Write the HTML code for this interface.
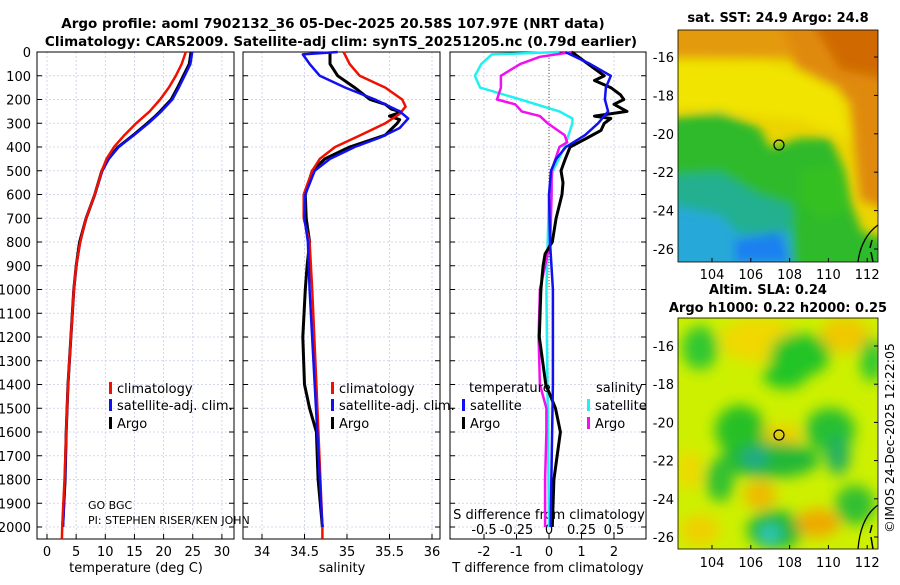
<!DOCTYPE html>
<html><head><meta charset="utf-8"><style>
html,body{margin:0;padding:0;background:#fff;}
svg text{font-family:"DejaVu Sans","Liberation Sans",sans-serif;}
</style></head><body>
<svg id="chart" width="900" height="580" viewBox="0 0 900 580" xmlns="http://www.w3.org/2000/svg">
<defs>
<filter id="blur1" x="-20%" y="-20%" width="140%" height="140%"><feGaussianBlur stdDeviation="5"/></filter>
<filter id="blur2" x="-20%" y="-20%" width="140%" height="140%"><feGaussianBlur stdDeviation="7"/></filter>
<clipPath id="clipTop"><rect x="678" y="30" width="200" height="232"/></clipPath>
<clipPath id="clipBot"><rect x="678" y="318" width="200" height="231"/></clipPath>
</defs>
<text x="333" y="28" text-anchor="middle" font-size="13.5" font-weight="bold">Argo profile: aoml 7902132_36 05-Dec-2025 20.58S 107.97E (NRT data)</text>
<text x="341" y="46" text-anchor="middle" font-size="13.5" font-weight="bold">Climatology: CARS2009. Satellite-adj clim: synTS_20251205.nc (0.79d earlier)</text>

<!-- SST map -->
<g clip-path="url(#clipTop)">
<rect x="678" y="30" width="200" height="232" fill="#ecd400"/>
<g filter="url(#blur1)">
<rect x="670" y="20" width="220" height="38" fill="#e49a10"/>
<polygon points="780,20 890,20 890,210 860,200 850,100 800,80" fill="#e08a08"/>
<polygon points="810,20 890,20 890,80 840,70" fill="#d06a00"/>
<polygon points="670,60 760,62 800,70 840,90 850,140 800,120 700,110 670,110" fill="#f0e400"/>
<polygon points="670,118 720,112 760,128 770,148 800,138 830,138 845,170 852,205 862,232 890,240 890,270 670,270" fill="#2fba2a"/>
<polygon points="670,175 720,172 760,195 792,205 792,270 670,270" fill="#22b090"/>
<polygon points="670,205 720,215 740,235 790,232 792,270 670,270" fill="#28a8d8"/>
<polygon points="735,240 780,232 790,262 735,262" fill="#1a80f0"/>
<polygon points="800,170 840,165 850,210 820,220 800,200" fill="#36c020"/>
</g>
<path d="M878,225 C868,232 860,245 858,262" fill="none" stroke="#000" stroke-width="1.3"/>
<path d="M872,240 L870,248 M871,252 L873,262" fill="none" stroke="#000" stroke-width="1.5"/>
</g>
<rect x="678" y="30" width="200" height="232" fill="none" stroke="#000" stroke-width="0.8"/>
<circle cx="779" cy="145" r="5" fill="none" stroke="#000" stroke-width="1.2"/>
<text x="778" y="22" text-anchor="middle" font-size="13" font-weight="bold">sat. SST: 24.9 Argo: 24.8</text>

<!-- SLA map -->
<g clip-path="url(#clipBot)">
<rect x="678" y="318" width="200" height="231" fill="#cdf000"/>
<g filter="url(#blur2)">
<ellipse cx="760" cy="340" rx="40" ry="22" fill="#f0d800"/>
<ellipse cx="845" cy="335" rx="25" ry="18" fill="#f0c800"/>
<ellipse cx="700" cy="348" rx="18" ry="22" fill="#30c830"/>
<ellipse cx="800" cy="355" rx="30" ry="22" fill="#22c428"/>
<ellipse cx="785" cy="375" rx="22" ry="14" fill="#22c428"/>
<ellipse cx="872" cy="360" rx="12" ry="22" fill="#30c830"/>
<ellipse cx="780" cy="435" rx="22" ry="10" fill="#f0cc00"/>
<ellipse cx="740" cy="430" rx="25" ry="25" fill="#28c028"/>
<ellipse cx="770" cy="460" rx="50" ry="18" fill="#22b838"/>
<ellipse cx="755" cy="458" rx="12" ry="10" fill="#20a890"/>
<ellipse cx="830" cy="430" rx="25" ry="22" fill="#28c030"/>
<ellipse cx="838" cy="455" rx="12" ry="20" fill="#20b060"/>
<ellipse cx="720" cy="480" rx="14" ry="22" fill="#30c030"/>
<ellipse cx="760" cy="495" rx="16" ry="14" fill="#f0b800"/>
<ellipse cx="690" cy="470" rx="12" ry="20" fill="#f0d800"/>
<ellipse cx="775" cy="530" rx="28" ry="20" fill="#22b838"/>
<ellipse cx="770" cy="534" rx="10" ry="9" fill="#30c8c8"/>
<ellipse cx="818" cy="523" rx="22" ry="14" fill="#f0a800"/>
<ellipse cx="855" cy="505" rx="20" ry="20" fill="#30c030"/>
<ellipse cx="700" cy="530" rx="20" ry="15" fill="#f0d000"/>
</g>
<path d="M878,505 C868,512 860,525 858,549" fill="none" stroke="#000" stroke-width="1.3"/>
<path d="M872,525 L870,533 M871,537 L873,549" fill="none" stroke="#000" stroke-width="1.5"/>
</g>
<rect x="678" y="318" width="200" height="231" fill="none" stroke="#000" stroke-width="0.8"/>
<circle cx="779" cy="435" r="5" fill="none" stroke="#000" stroke-width="1.2"/>
<text x="768" y="294" text-anchor="middle" font-size="13" font-weight="bold">Altim. SLA: 0.24</text>
<text x="778" y="312" text-anchor="middle" font-size="13" font-weight="bold">Argo h1000: 0.22 h2000: 0.25</text>
<text transform="translate(894,438) rotate(-90)" text-anchor="middle" font-size="12.5">©IMOS 24-Dec-2025 12:22:05</text>

<g id="plots"></g>
</svg>
<script>
// ---------- data ----------
const depthTicks = [0,100,200,300,400,500,600,700,800,900,1000,1100,1200,1300,1400,1500,1600,1700,1800,1900,2000];
const tempTicks = [0,5,10,15,20,25,30];
const salTicks = [34,34.5,35,35.5,36];
const salTickLabels = ["34","34.5","35","35.5","36"];
const tdiffTicks = [-2,-1,0,1,2];
const sdiffTicks = [-0.5,-0.25,0,0.25,0.5];
const sdiffTickLabels = ["-0.5","-0.25","0","0.25","0.5"];
const lonTicks = [104,106,108,110,112];
const latTicks = [-16,-18,-20,-22,-24,-26];

const tClimDepth = [0,50,100,150,200,250,300,350,400,450,500,600,700,800,900,1000,1200,1400,1600,1800,2000,2050];
const tClim = [23.8,23.1,22.1,20.9,19.4,17.6,15.3,13.3,11.5,10.2,9.4,8.2,6.7,5.7,5.0,4.6,4.1,3.6,3.3,3.0,2.6,2.55];
const tSatDepth = [0,50,100,150,200,250,300,350,400,450,500,600,700,800,900,1000,1200,1400,1600,1800,2000];
const tSat = [24.9,24.6,23.6,22.6,21.5,19.6,17.4,14.9,12.3,10.6,9.5,8.2,6.7,5.7,5.0,4.6,4.1,3.6,3.3,3.1,2.75];
const tArgoDepth = [0,50,100,150,200,250,270,300,350,400,450,500,600,700,800,900,1000,1200,1400,1600,1800,2000];
const tArgo = [24.7,24.4,23.4,22.4,21.3,19.4,18.6,17.2,14.8,12.2,10.5,9.4,8.2,6.7,5.6,5.0,4.6,4.1,3.6,3.3,3.1,2.7];

const sClimDepth = [0,50,100,150,200,230,260,300,350,400,450,500,600,700,800,1000,1400,2000,2050];
const sClim = [34.96,35.03,35.15,35.45,35.65,35.69,35.62,35.45,35.16,34.86,34.68,34.59,34.49,34.49,34.56,34.59,34.64,34.71,34.71];
const sSatDepth = [0,10,50,100,150,200,250,280,320,360,400,450,500,600,700,800,1000,1400,2000];
const sSat = [34.89,34.48,34.56,34.68,34.98,35.33,35.62,35.72,35.62,35.39,35.09,34.80,34.62,34.51,34.50,34.54,34.56,34.62,34.71];
const sArgoDepth = [0,50,100,150,200,220,240,250,260,270,285,300,350,400,450,500,600,700,800,900,1000,1200,1400,1500,1600,1800,2000];
const sArgo = [34.80,34.80,34.89,35.09,35.27,35.45,35.52,35.62,35.58,35.50,35.62,35.59,35.45,35.03,34.74,34.59,34.51,34.52,34.56,34.53,34.51,34.48,34.50,34.56,34.64,34.66,34.71];

const tdSatDepth = [0,50,100,150,200,250,300,350,400,450,500,600,800,1000,1400,2000];
const tdSat = [0.5,1.26,1.9,1.75,1.72,1.82,1.51,1.11,0.52,0.22,0.06,0.0,0.03,0.12,0.12,0.05];
const tdArgoDepth = [0,50,100,120,150,180,200,220,250,270,280,300,330,360,400,450,500,550,600,700,800,850,900,1000,1200,1400,1500,1600,1800,2000];
const tdArgo = [0.7,1.2,1.7,1.4,1.9,2.2,2.3,2.0,2.4,1.4,1.9,1.7,1.6,1.2,0.65,0.5,0.37,0.43,0.4,0.22,0.1,-0.12,-0.18,-0.25,-0.3,-0.1,0.2,0.35,0.15,0.1];
const sdSatDepth = [0,10,50,100,150,200,250,280,300,400,500,600,800,1000,1500,2000];
const sdSat = [0.08,-0.44,-0.52,-0.57,-0.53,-0.22,0.08,0.18,0.18,0.12,0.03,0.0,-0.01,-0.02,-0.01,0.0];
const sdArgoDepth = [0,20,50,100,150,200,220,250,270,300,350,380,400,450,500,600,800,900,1000,1200,1400,1500,1600,1800,2000];
const sdArgo = [0.18,-0.07,-0.22,-0.37,-0.37,-0.40,-0.26,-0.21,-0.07,-0.01,0.12,0.14,0.08,0.05,0.02,0.02,0.01,-0.03,-0.07,-0.08,-0.07,-0.02,-0.02,-0.03,-0.03];

// ---------- helpers ----------
const NS = "http://www.w3.org/2000/svg";
const root = document.getElementById("plots");
const TOP = 52, DSCALE = 0.2375, BOT = 539;
function yD(d){ return TOP + d*DSCALE; }
function mk(tag, attrs, parent){ const e=document.createElementNS(NS,tag); for(const k in attrs) e.setAttribute(k,attrs[k]); (parent||root).appendChild(e); return e; }
function txt(s, x, y, anchor, size, parent){ const t=mk("text",{x:x,y:y,"text-anchor":anchor,"font-size":size},parent); t.textContent=s; return t; }

const panels = [
 {name:"temperature", x0:37, x1:234, xf:v=>47+v*5.83},
 {name:"salinity", x0:243, x1:440, xf:v=>262+(v-34)*85},
 {name:"difference", x0:450, x1:646, xf:v=>549+v*32.5}
];
const sdx = v=>549+v*130;

panels.forEach((p,i)=>{
  const g = mk("g",{});
  
  
  // grid
  depthTicks.forEach(d=>{
    const l = mk("line",{x1:p.x0,x2:p.x1,y1:yD(d),y2:yD(d),stroke:"#c8cce8","stroke-width":0.8,"stroke-dasharray":"2,2"},g);
    
    
    mk("line",{x1:p.x0,x2:p.x0+5,y1:yD(d),y2:yD(d),stroke:"#000"},g);
    mk("line",{x1:p.x1-5,x2:p.x1,y1:yD(d),y2:yD(d),stroke:"#000"},g);
  });
  const ticks = i==0?tempTicks:(i==1?salTicks:tdiffTicks);
  const labels = i==0?tempTicks.map(String):(i==1?salTickLabels:tdiffTicks.map(String));
  ticks.forEach((v,k)=>{
    const x=p.xf(v);
    const l = mk("line",{x1:x,x2:x,y1:TOP,y2:BOT,stroke:"#c8cce8","stroke-width":0.8,"stroke-dasharray":"2,2"},g);
    
    
    mk("line",{x1:x,x2:x,y1:BOT-5,y2:BOT,stroke:"#000"},g);
    const t = txt(labels[k], x, 556, "middle", 13, g);
    
    
  });
  const fr = mk("rect",{x:p.x0,y:TOP,width:p.x1-p.x0,height:BOT-TOP,fill:"none",stroke:"#000","stroke-width":1},g);
  
  
});

// depth labels
depthTicks.forEach(d=>{
  const t = txt(String(d), 31, yD(d)+5, "end", 13);
  
  
});
// diff zero dotted line
const zl = mk("line",{x1:549,x2:549,y1:TOP,y2:yD(1000),stroke:"#705030","stroke-width":1,"stroke-dasharray":"1,2"});



// axis titles
[["temperature (deg C)",136,"temperature-axis-title"],["salinity",342,"salinity-axis-title"],["T difference from climatology",548,"tdiff-axis-title"]].forEach(a=>{
  const t = txt(a[0], a[1], 572, "middle", 13);
  
  
});
const sdt = txt("S difference from climatology", 549, 519, "middle", 13);


sdiffTicks.forEach((v,k)=>{
  const t = txt(sdiffTickLabels[k], sdx(v), 534, "middle", 13);
  
  
});

// series
function line(depths, vals, xf, color, w, name){
  const pts = depths.map((d,k)=>xf(vals[k]).toFixed(1)+","+yD(d).toFixed(1)).join(" ");
  const pl = mk("polyline",{points:pts,fill:"none",stroke:color,"stroke-width":w,"stroke-linejoin":"round"});
  
  
}
const P=panels;
line(tArgoDepth,tArgo,P[0].xf,"#000",3,"temp-argo-line");
line(tSatDepth,tSat,P[0].xf,"#1010f0",2.5,"temp-satellite-line");
line(tClimDepth,tClim,P[0].xf,"#f01000",2.5,"temp-climatology-line");
line(sArgoDepth,sArgo,P[1].xf,"#000",3,"sal-argo-line");
line(sClimDepth,sClim,P[1].xf,"#f01000",2.5,"sal-climatology-line");
line(sSatDepth,sSat,P[1].xf,"#1010f0",2.5,"sal-satellite-line");
line(sdSatDepth,sdSat,sdx,"#20f0f0",2.5,"sdiff-satellite-line");
line(sdArgoDepth,sdArgo,sdx,"#f010f0",2.5,"sdiff-argo-line");
line(tdArgoDepth,tdArgo,P[2].xf,"#000",3,"tdiff-argo-line");
line(tdSatDepth,tdSat,P[2].xf,"#1010f0",2.5,"tdiff-satellite-line");

// legends
function legend(x,y,color,label,name){
  const g=mk("g",{});
  
  
  mk("rect",{x:x,y:y-10,width:3,height:12,fill:color},g);
  txt(label,x+8,y+1,"start",13,g);
}
legend(109,392,"#f01000","climatology","legend-temp-climatology");
legend(109,409,"#1010f0","satellite-adj. clim.","legend-temp-satellite");
legend(109,427,"#000","Argo","legend-temp-argo");
legend(331,392,"#f01000","climatology","legend-sal-climatology");
legend(331,409,"#1010f0","satellite-adj. clim.","legend-sal-satellite");
legend(331,427,"#000","Argo","legend-sal-argo");
const lt=txt("temperature",469,392,"start",13);  
const ls=txt("salinity",596,392,"start",13);  
legend(462,409,"#1010f0","satellite","legend-tdiff-satellite");
legend(462,427,"#000","Argo","legend-tdiff-argo");
legend(587,409,"#20f0f0","satellite","legend-sdiff-satellite");
legend(587,427,"#f010f0","Argo","legend-sdiff-argo");
const pi1=txt("GO BGC",88,545-2*0+ -4 - 0,"start",11); pi1.setAttribute("y",509);  
const pi2=txt("PI: STEPHEN RISER/KEN JOHN",88,524,"start",11);  

// map axes
function mapAxes(yTop, yBot, latPx, labelY){
  lonTicks.forEach(v=>{
    const x = 712 + (v-104)*19.4;
    mk("line",{x1:x,x2:x,y1:yBot-4,y2:yBot,stroke:"#000"});
    const t=txt(String(v),x,labelY,"middle",13);
    
    
  });
  latTicks.forEach(v=>{
    const y = latPx(v);
    mk("line",{x1:874,x2:878,y1:y,y2:y,stroke:"#000"});
    const t=txt(String(v),674,y+5,"end",13);
    
    
  });
}
mapAxes(30,262,v=>57+(-16-v)*19.2,279);
mapAxes(318,549,v=>346+(-16-v)*19.1,567);
</script>
</body></html>
